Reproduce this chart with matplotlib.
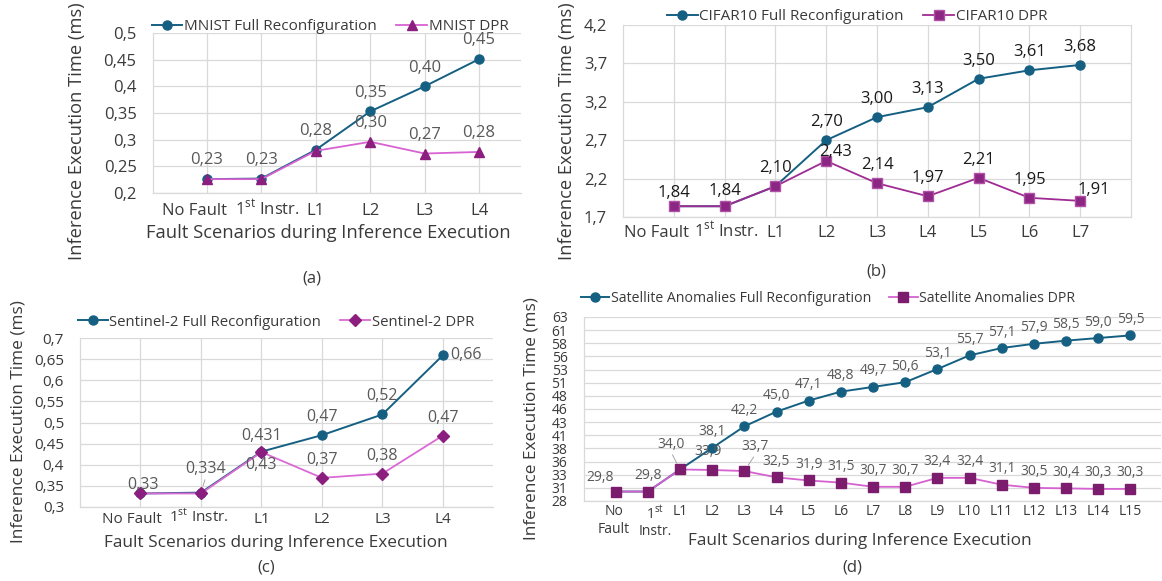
import matplotlib.pyplot as plt
import matplotlib.transforms as mtransforms
import numpy as np

plt.rcParams['font.family'] = ['Open Sans', 'DejaVu Sans']
plt.rcParams['mathtext.fontset'] = 'custom'
plt.rcParams['mathtext.rm'] = 'Open Sans'

# ---- data ----
first = r'1$^{\mathrm{st}}$ Instr.'

# (a) MNIST
mnist_cats = ['No Fault', first, 'L1', 'L2', 'L3', 'L4']
mnist_full = [0.226, 0.227, 0.281, 0.353, 0.400, 0.451]
mnist_dpr = [0.226, 0.226, 0.279, 0.296, 0.274, 0.277]
mnist_full_lbl = ['0,23', '0,23', '0,28', '0,35', '0,40', '0,45']
mnist_dpr_lbl = [None, None, None, '0,30', '0,27', '0,28']

# (b) CIFAR10
cifar_cats = ['No Fault', first, 'L1', 'L2', 'L3', 'L4', 'L5', 'L6', 'L7']
cifar_full = [1.84, 1.84, 2.10, 2.70, 3.00, 3.13, 3.50, 3.61, 3.68]
cifar_dpr = [1.84, 1.84, 2.10, 2.43, 2.14, 1.97, 2.21, 1.95, 1.91]
cifar_full_lbl = ['1,84', '1,84', '2,10', '2,70', '3,00', '3,13', '3,50', '3,61', '3,68']
cifar_dpr_lbl = [None, None, None, '2,43', '2,14', '1,97', '2,21', '1,95', '1,91']

# (c) Sentinel-2
sent_cats = ['No Fault', first, 'L1', 'L2', 'L3', 'L4']
sent_full = [0.332, 0.334, 0.431, 0.470, 0.519, 0.659]
sent_dpr = [0.332, 0.332, 0.430, 0.369, 0.379, 0.469]
sent_full_lbl = ['0,33', '0,334', '0,431', '0,47', '0,52', '0,66']
sent_dpr_lbl = [None, None, '0,43', '0,37', '0,38', '0,47']

# (d) Satellite anomalies
sat_cats = ['No\nFault', '1$^{\\mathrm{st}}$\nInstr.'] + ['L%d' % i for i in range(1, 16)]
sat_full = [29.8, 29.8, 34.0, 38.1, 42.2, 45.0, 47.1, 48.8, 49.7, 50.6,
            53.1, 55.7, 57.1, 57.9, 58.5, 59.0, 59.5]
sat_dpr = [29.8, 29.8, 34.0, 33.9, 33.7, 32.5, 31.9, 31.5, 30.7, 30.7,
           32.4, 32.4, 31.1, 30.5, 30.4, 30.3, 30.3]
sat_full_lbl = [None, None, None] + [f'{v:.1f}'.replace('.', ',') for v in sat_full[3:]]
sat_dpr_lbl = [f'{v:.1f}'.replace('.', ',') for v in sat_dpr]

W, H = 1162, 581
BLUE = '#156082'
GRID = '#D9D9D9'
TXT = '#3A3A3A'
LBL = '#595959'

fig = plt.figure(figsize=(W / 100, H / 100), dpi=100)


def add_ax(l, t, r, b):
    return fig.add_axes([l / W, 1 - b / H, (r - l) / W, (b - t) / H])


def ftext(x, y, s, **kw):
    fig.text(x / W, 1 - y / H, s, ha='center', va='center', **kw)


def comma_fmt(v):
    return f'{round(v, 3):g}'.replace('.', ',')


def panel(box, cats, full, dpr, full_lbl, dpr_lbl, ylim, yticks, ytlabels,
          names, dpr_style, xlim_right, legend_xy, ylabel_xy, xlabel_xy,
          caption, caption_xy, fs=11, lfs=10.5, tfs=12.5, dfs=None, lbl_color=LBL,
          default_off=13.5, offsets=None, leaders=(), xpad=6, baseline=True,
          tick_shift=None, vgrid=None, right_spine=False):
    dfs = dfs or fs
    ax = add_ax(*box)
    x = np.arange(len(cats))
    ax.plot(x, full, color=BLUE, lw=1.4, marker='o', ms=dpr_style.get('fms', 6),
            mfc=BLUE, mec=BLUE, label=names[0], zorder=3)
    ax.plot(x, dpr, color=dpr_style['line'], lw=1.3, marker=dpr_style['marker'],
            ms=dpr_style['ms'], mfc=dpr_style['mfc'], mec=dpr_style['mec'],
            mew=1.0, label=names[1], zorder=4)
    ax.set_xlim(-1, xlim_right)
    ax.set_ylim(*ylim)
    ax.set_yticks(yticks)
    ax.set_yticklabels(ytlabels)
    ax.set_xticks(x)
    ax.set_xticklabels(cats)
    ax.tick_params(axis='y', length=0, pad=11.5, labelsize=fs, labelcolor=TXT)
    ax.tick_params(axis='x', length=0, pad=xpad, labelsize=fs, labelcolor=TXT)
    if baseline:
        for t in ax.get_xticklabels():
            t.set_verticalalignment('baseline')
    for i, dx in (tick_shift or {}).items():
        t = ax.get_xticklabels()[i]
        t.set_transform(t.get_transform() +
                        mtransforms.ScaledTranslation(dx / 100, 0, fig.dpi_scale_trans))
    ax.grid(axis='y', color=GRID, lw=0.9, zorder=0)
    if vgrid is None:
        ax.grid(axis='x', color=GRID, lw=0.9, zorder=0)
    else:
        ax.set_xticks(vgrid, minor=True)
        ax.tick_params(axis='x', which='minor', length=0)
        ax.grid(axis='x', which='minor', color=GRID, lw=0.9, zorder=0)
    ax.spines['top'].set_visible(False)
    ax.spines['right'].set_visible(right_spine)
    for side in ['left', 'bottom', 'right']:
        ax.spines[side].set_color(GRID)
        ax.spines[side].set_linewidth(0.9)
    ax.set_axisbelow(True)

    offsets = offsets or {}
    for key, vals, lbls in (('f', full, full_lbl), ('d', dpr, dpr_lbl)):
        for i, (v, s) in enumerate(zip(vals, lbls)):
            if s is None:
                continue
            off = offsets.get((key, i), (0, default_off))
            kw = {}
            if (key, i) in leaders:
                kw['arrowprops'] = dict(arrowstyle='-', color='#A6A6A6', lw=0.7,
                                        shrinkA=0, shrinkB=5, relpos=(0.5, 0))
            ax.annotate(s, (i, v), xytext=off, textcoords='offset points',
                        ha='center', va='center', fontsize=dfs, color=lbl_color,
                        zorder=5, annotation_clip=False, **kw)

    ax.legend(loc='center', bbox_to_anchor=(legend_xy[0] / W, 1 - legend_xy[1] / H),
              bbox_transform=fig.transFigure, ncol=2, frameon=False,
              fontsize=lfs, handlelength=2.0, handletextpad=0.1, columnspacing=1.3,
              labelcolor=TXT, borderaxespad=0)
    ftext(ylabel_xy[0], ylabel_xy[1], 'Inference Execution Time (ms)', rotation=90,
          fontsize=tfs, color=TXT)
    if xlabel_xy is not None:
        ftext(xlabel_xy[0], xlabel_xy[1], 'Fault Scenarios during Inference Execution',
              fontsize=tfs, color=TXT)
    ftext(caption_xy[0], caption_xy[1], caption, fontsize=12, color=TXT)
    return ax


# (a)
ya = np.arange(0.2, 0.5001, 0.05)
panel((152.5, 33, 521, 193), mnist_cats, mnist_full, mnist_dpr,
      mnist_full_lbl, mnist_dpr_lbl, (0.2, 0.5), ya, [comma_fmt(v) for v in ya],
      ('MNIST Full Reconfiguration', 'MNIST DPR'),
      dict(line='#D862D2', marker='^', ms=7, mfc='#8B1E7F', mec='#8B1E7F', fms=6.5),
      5.77, (330, 27), (77, 131), (328, 233), '(a)', (312, 278),
      fs=12, lfs=11, tfs=13.2, dfs=12, default_off=13.5, xpad=15.8,
      tick_shift={0: -12, 1: 6})

# (b)
yb = np.arange(1.7, 4.2001, 0.5)
panel((623, 25, 1131, 217), cifar_cats, cifar_full, cifar_dpr,
      cifar_full_lbl, cifar_dpr_lbl, (1.7, 4.2), yb, [comma_fmt(v) for v in yb],
      ('CIFAR10 Full Reconfiguration', 'CIFAR10 DPR'),
      dict(line='#A02B93', marker='s', ms=7.5, mfc='#8B2783', mec='#B050A6', fms=6.5),
      9, (857, 17), (567, 131), None, '(b)', (876, 272),
      fs=12, lfs=11, tfs=13.2, dfs=12, lbl_color='#1A1A1A', default_off=13,
      offsets={('f', 0): (0, 9.5), ('f', 1): (0, 11), ('d', 3): (7, 6.5),
               ('d', 8): (9.5, 8)}, xpad=14.4, tick_shift={0: -17, 1: 2},
      right_spine=True)

# (c)
yc = np.arange(0.3, 0.7001, 0.05)
panel((80, 338, 493, 507), sent_cats, sent_full, sent_dpr,
      sent_full_lbl, sent_dpr_lbl, (0.3, 0.7), yc, [comma_fmt(v) for v in yc],
      ('Sentinel-2 Full Reconfiguration', 'Sentinel-2 DPR'),
      dict(line='#DA6AD5', marker='D', ms=6, mfc='#8B1E7F', mec='#8B1E7F', fms=6.5),
      5.83, (276, 322), (19, 422), (276, 543), '(c)', (266, 568),
      fs=11, lfs=10.7, tfs=12.4, dfs=11.5, default_off=13,
      offsets={('f', 0): (2, 6), ('f', 1): (3.5, 17), ('f', 2): (0, 11),
               ('f', 5): (17, 0), ('d', 2): (0, -9.5)},
      leaders=(('f', 1),), xpad=11.5, tick_shift={0: -9, 1: -2})

# (d)
yd = np.arange(28, 63.001, 2.5)
panel((583.5, 317, 1161, 501), sat_cats, sat_full, sat_dpr,
      sat_full_lbl, sat_dpr_lbl, (28, 63), yd, [str(int(np.floor(v + 0.5))) for v in yd],
      ('Satellite Anomalies Full Reconfiguration', 'Satellite Anomalies DPR'),
      dict(line='#D661D0', marker='s', ms=7.5, mfc='#7B1D6C', mec='#7B1D6C', fms=6.5),
      16.95, (828, 298), (532, 419), (860, 541), '(d)', (852, 568),
      fs=10, lfs=10.2, tfs=12.4, dfs=10, default_off=11.5,
      offsets={('d', 0): (-11.5, 10), ('d', 2): (-6.5, 18), ('d', 3): (-3, 13),
               ('d', 4): (8, 17.5)},
      leaders=(('d', 2), ('d', 4)), xpad=2.5, baseline=False,
      tick_shift={0: -2, 1: 7}, vgrid=np.arange(1, 17, 2))

fig.savefig('out.png', dpi=100)
